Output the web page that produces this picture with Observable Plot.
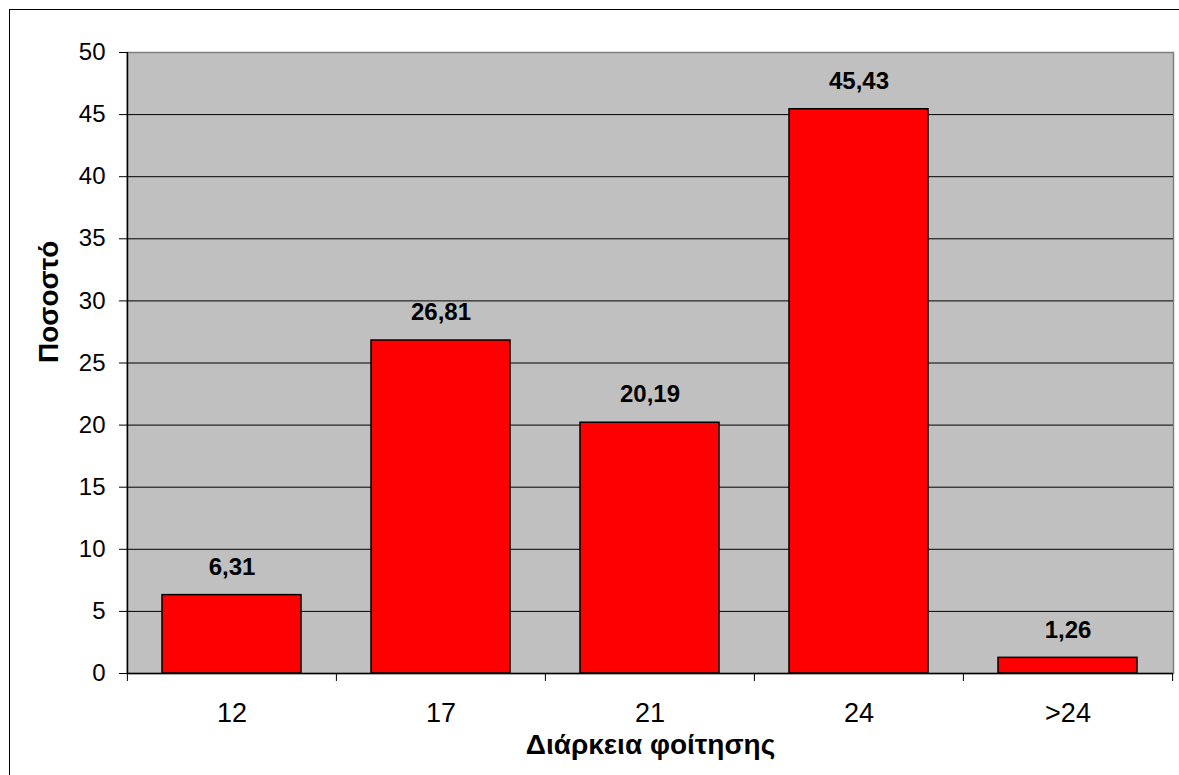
<!DOCTYPE html>
<html>
<head>
<meta charset="utf-8">
<script src="https://cdn.jsdelivr.net/npm/d3@7"></script>
<script src="https://cdn.jsdelivr.net/npm/@observablehq/plot@0.6"></script>
<style>
  html, body { margin: 0; padding: 0; background: #fff; overflow: hidden; }
  #wrap { position: relative; width: 1179px; height: 775px; }
  #border { position: absolute; left: 9px; top: 9px; width: 1300px; height: 900px;
            border: 1.5px solid #000; pointer-events: none; }
  svg { font-family: Arial, "Liberation Sans", sans-serif; }
</style>
</head>
<body>
<div id="wrap"><div id="border"></div></div>
<script>
const categories = ["12", "17", "21", "24", ">24"];
const values = [6.31, 26.81, 20.19, 45.43, 1.26];
const yTicks = [0, 5, 10, 15, 20, 25, 30, 35, 40, 45, 50];
const xTitle = "Διάρκεια φοίτησης";
const yTitle = "Ποσοστό";

const data = categories.map((c, i) => ({cat: c, val: values[i]}));

const W = 1179, H = 775;
const mL = 127, mR = 6, mT = 52, mB = 102;
const step = (W - mL - mR) / categories.length;
const fmt = v => v.toFixed(2).replace(".", ",");

const chart = Plot.plot({
  width: W,
  height: H,
  marginLeft: mL,
  marginRight: mR,
  marginTop: mT,
  marginBottom: mB,
  style: {fontFamily: 'Arial, "Liberation Sans", sans-serif', background: "transparent", overflow: "visible"},
  x: {domain: categories, paddingInner: 1/3, paddingOuter: 1/6, label: null},
  y: {domain: [0, 50], label: null},
  marks: [
    Plot.frame({fill: "#c0c0c0", stroke: "#808080", strokeWidth: 1.5}),
    Plot.ruleY(yTicks.filter(t => t > 0 && t < 50), {stroke: "#000", strokeWidth: 1}),
    Plot.barY(data, {x: "cat", y: "val", fill: "#ff0000", stroke: "#000", strokeWidth: 1.5}),
    Plot.text(data, {x: "cat", y: "val", text: d => fmt(d.val), dy: -28,
      fontSize: 24, fontWeight: "bold", fill: "#000"}),
    // axis lines
    Plot.ruleX([categories[0]], {dx: -step / 2, stroke: "#000", strokeWidth: 1.5}),
    Plot.ruleY([0], {stroke: "#000", strokeWidth: 1.5}),
    // x boundary ticks
    Plot.ruleX(categories, {x: d => d, y1: 0, y2: 0, insetBottom: -8, dx: -step / 2, stroke: "#000"}),
    Plot.ruleX([categories[categories.length - 1]], {y1: 0, y2: 0, insetBottom: -8, dx: step / 2, stroke: "#000"}),
    Plot.axisX({tickSize: 0, tickPadding: 29, fontSize: 27, fill: "#000", label: null}),
    Plot.axisY({ticks: yTicks, tickSize: 8, tickPadding: 14, fontSize: 24, fill: "#000",
      stroke: "#000", strokeOpacity: 1, label: null}),
    Plot.text([xTitle], {frameAnchor: "bottom", dy: 80, fontSize: 28, fontWeight: "bold", fill: "#000"}),
    Plot.text([yTitle], {frameAnchor: "left", dx: -78, rotate: -90, fontSize: 28, fontWeight: "bold", fill: "#000"})
  ]
});
document.getElementById("wrap").prepend(chart);
</script>
</body>
</html>
